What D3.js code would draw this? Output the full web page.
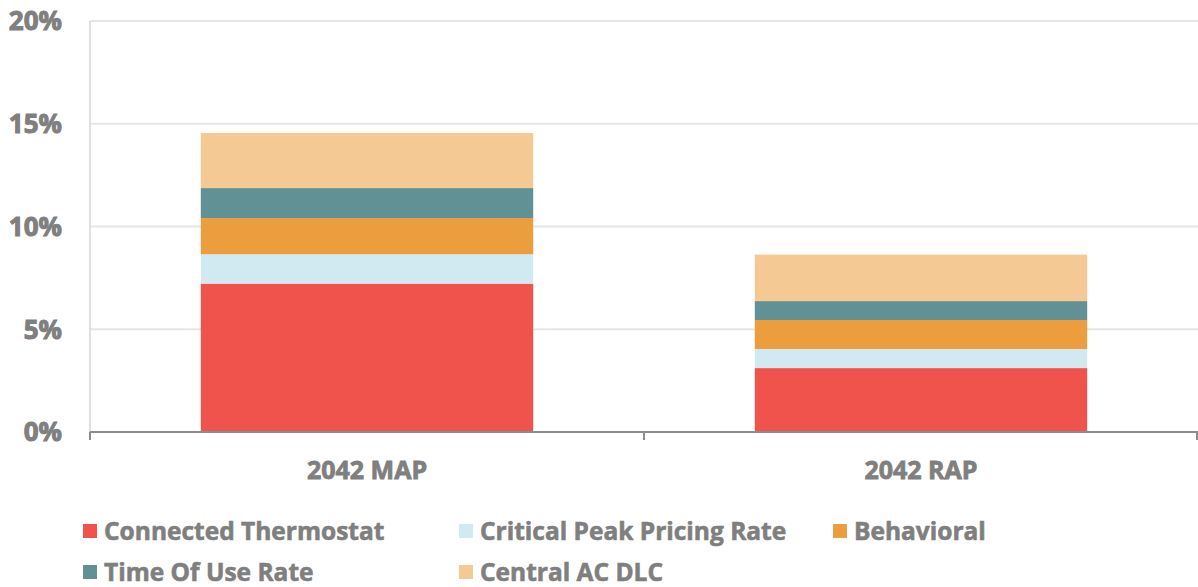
<!DOCTYPE html>
<html>
<head>
<meta charset="utf-8">
<script src="https://cdn.jsdelivr.net/npm/d3@7"></script>
<style>
  body { margin: 0; background: #fff; }
  text { font-family: "Open Sans", sans-serif; font-weight: 700; fill: #7f7f7f; stroke: #7f7f7f; }
</style>
</head>
<body>
<div id="chart"></div>
<script>
'use strict';

const scenarios = ['2042 MAP', '2042 RAP'];
const seriesNames = ['Connected Thermostat', 'Critical Peak Pricing Rate', 'Behavioral', 'Time Of Use Rate', 'Central AC DLC'];
const seriesColors = ['#ef534b', '#d1e9f0', '#ec9e3e', '#619194', '#f4c994'];
const connectedThermostat = [7.22, 3.11];
const criticalPeak = [1.43, 0.93];
const behavioral = [1.76, 1.41];
const timeOfUse = [1.46, 0.92];
const centralAC = [2.68, 2.26];
const yTicks = [0, 5, 10, 15, 20];

const width = 1198, height = 587;
const margin = {top: 21, right: 0, bottom: 155, left: 90};
const innerW = width - margin.left - margin.right;
const innerH = height - margin.top - margin.bottom;

const svg = d3.select('#chart').append('svg')
    .attr('width', width)
    .attr('height', height);

const g = svg.append('g').attr('transform', `translate(${margin.left},${margin.top})`);

// build a table for d3.stack
const allSeries = [connectedThermostat, criticalPeak, behavioral, timeOfUse, centralAC];
const table = scenarios.map((s, i) => {
    const row = {scenario: s};
    seriesNames.forEach((n, j) => { row[n] = allSeries[j][i]; });
    return row;
});
const stacked = d3.stack().keys(seriesNames)(table);

const x = d3.scaleBand().domain(scenarios).range([0, innerW]).paddingInner(0.4).paddingOuter(0.2);
const y = d3.scaleLinear().domain([0, 20]).range([innerH, 0]);
const color = d3.scaleOrdinal().domain(seriesNames).range(seriesColors);

// gridlines
g.append('g')
  .selectAll('line')
  .data(yTicks.slice(1))
  .join('line')
    .attr('x1', 0).attr('x2', innerW)
    .attr('y1', d => y(d)).attr('y2', d => y(d))
    .attr('stroke', '#e6e6e6')
    .attr('stroke-width', 2);

// left axis line
g.append('line')
    .attr('x1', 0).attr('x2', 0)
    .attr('y1', 0).attr('y2', innerH)
    .attr('stroke', '#e0e0e0')
    .attr('stroke-width', 2);

// y labels
g.append('g')
  .selectAll('text')
  .data(yTicks)
  .join('text')
    .attr('x', -28)
    .attr('y', d => y(d))
    .attr('dy', '0.36em')
    .attr('text-anchor', 'end')
    .style('font-size', '26px')
    .style('stroke-width', '1px')
    .text(d => d + '%');

// bars
g.append('g')
  .selectAll('g')
  .data(stacked)
  .join('g')
    .attr('fill', d => color(d.key))
  .selectAll('rect')
  .data(d => d)
  .join('rect')
    .attr('x', d => x(d.data.scenario))
    .attr('y', d => y(d[1]))
    .attr('width', x.bandwidth())
    .attr('height', d => y(d[0]) - y(d[1]));

// bottom axis
const xAxis = g.append('g').attr('transform', `translate(0,${innerH})`);
xAxis.append('line')
    .attr('x1', 0).attr('x2', innerW)
    .attr('stroke', '#8c8c8c').attr('stroke-width', 2);
const step = innerW / scenarios.length;
xAxis.selectAll('line.tick')
  .data(d3.range(scenarios.length + 1))
  .join('line')
    .attr('class', 'tick')
    .attr('x1', d => Math.min(d * step, innerW - 1)).attr('x2', d => Math.min(d * step, innerW - 1))
    .attr('y1', 0).attr('y2', 8)
    .attr('stroke', '#8c8c8c').attr('stroke-width', 2);
xAxis.selectAll('text')
  .data(scenarios)
  .join('text')
    .attr('x', d => x(d) + x.bandwidth() / 2)
    .attr('y', 38)
    .attr('dy', '0.36em')
    .attr('text-anchor', 'middle')
    .style('font-size', '25px')
    .style('stroke-width', '0.8px')
    .text(d => d);

// legend
const legendPos = [[83, 531], [459, 531], [833, 531], [83, 572], [459, 572]];
const legend = svg.append('g')
  .selectAll('g')
  .data(seriesNames)
  .join('g')
    .attr('transform', (d, i) => `translate(${legendPos[i][0]},${legendPos[i][1]})`);
legend.append('rect')
    .attr('x', 0).attr('y', -7)
    .attr('width', 14).attr('height', 14)
    .attr('fill', d => color(d));
legend.append('text')
    .attr('x', 21)
    .attr('dy', '0.36em')
    .style('font-size', '24.5px')
    .style('stroke-width', '0.6px')
    .text(d => d);
</script>
</body>
</html>
